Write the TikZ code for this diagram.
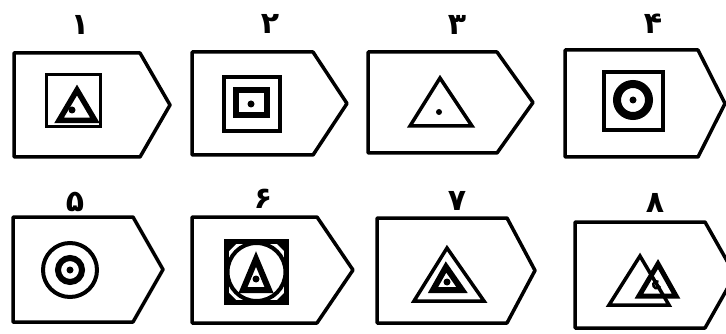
\documentclass[tikz,border=0pt]{standalone}
\usepackage{fontspec}
\newfontfamily\fafont[Script=Arabic]{DejaVu Sans}
\tikzset{
  pent/.style={line width=3.5pt, line join=round},
  thin/.style={line width=3.5pt},
  heavy/.style={line width=6pt},
  lab/.style={font=\fafont\bfseries\fontsize{30}{30}\selectfont, inner sep=0pt},
  dotmark/.style={fill=black}
}
\newcommand\pentagon[5]{\draw[pent] (#1,#2) -- (#3,#2) -- (#4,{(#2+#5)/2}) -- (#3,#5) -- (#1,#5) -- cycle;}
\begin{document}
\begin{tikzpicture}[x=1pt,y=-1pt]
\useasboundingbox (0,0) rectangle (726,334);
\clip (0,0) rectangle (726,334);
% labels
\node[lab] (l1) at (80,25) {۱};
\node[lab] (l2) at (270,24) {۲};
\node[lab] (l3) at (457,25) {۳};
\node[lab] (l4) at (653,24) {۴};
\node[lab] (l5) at (75,202) {۵};
\node[lab] (l6) at (263,199) {۶};
\node[lab] (l7) at (457,201) {۷};
\node[lab] (l8) at (655,203) {۸};
% outlines
\pentagon{14}{53}{140}{170}{157}
\pentagon{192}{52}{313}{347}{155}
\pentagon{368}{52}{497}{533}{153}
\pentagon{565}{50}{698}{725}{157}
\pentagon{13}{217}{133}{163}{322}
\pentagon{192}{217}{317}{353}{323}
\pentagon{377}{218}{507}{535}{323}
\pentagon{575}{222}{705}{735}{328}
% 1
\draw[thin] (46.5,74.5) rectangle (100.5,126.5);
\draw[line width=5.5pt] (77,90) -- (59,120.5) -- (95,120.5) -- cycle;
\fill[dotmark] (72,110) circle (3.5);
% 2
\draw[thin] (224,77) rectangle (280,131);
\draw[heavy] (236,90) rectangle (267,115);
\fill[dotmark] (251,104) circle (3.5);
% 3
\draw[thin] (440,78) -- (410,126) -- (472,126) -- cycle;
\fill[dotmark] (439,112) circle (3);
% 4
\draw[thin] (604,72) rectangle (663,130);
\draw[line width=8pt] (633,100) circle (16);
\fill[dotmark] (633,100) circle (3.5);
% 5
\draw[line width=4pt] (70,270) circle (27);
\draw[heavy] (70,270) circle (12);
\fill[dotmark] (70,270) circle (3.5);
% 6
\fill (226.5,241.5) -- ++(12,0) -- ++(-12,12) -- cycle;
\fill (286.5,241.5) -- ++(-12,0) -- ++(12,12) -- cycle;
\fill (226.5,302.5) -- ++(12,0) -- ++(-12,-12) -- cycle;
\fill (286.5,302.5) -- ++(-12,0) -- ++(12,-12) -- cycle;
\draw[line width=5pt] (226.5,241.5) rectangle (286.5,302.5);
\draw[line width=4pt] (256.5,272) circle (29);
\draw[heavy] (256,259) -- (243,290) -- (269,290) -- cycle;
\fill[dotmark] (256,279) circle (3.5);
% 7
\draw[thin] (447,248) -- (414,301) -- (484,301) -- cycle;
\draw[heavy] (446,267) -- (433,290) -- (462,290) -- cycle;
\fill[dotmark] (447,282) circle (3.5);
% 8
\draw[thin] (640,256) -- (609,305) -- (669,305) -- cycle;
\draw[line width=5pt] (658,264) -- (639,296) -- (676,296) -- cycle;
\draw[line width=2.5pt] (660,286) arc (20:300:3.5);
\end{tikzpicture}
\end{document}
